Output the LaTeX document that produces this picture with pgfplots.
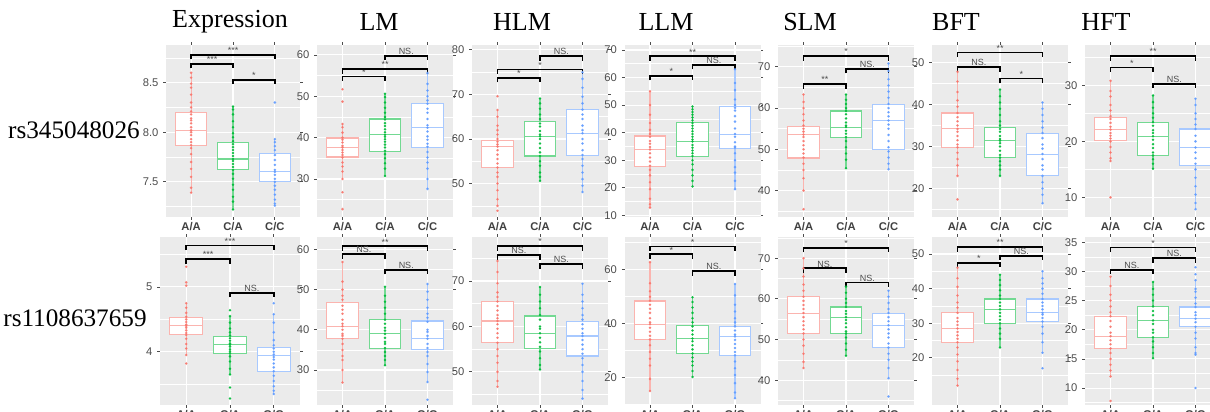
\documentclass[border=0pt]{standalone}
\usepackage{fontspec}
\setmainfont{Liberation Serif}
\newfontfamily\ssf{Liberation Sans}
\usepackage{pgfplots}
\pgfplotsset{compat=1.18}
\usepgfplotslibrary{statistics}
\definecolor{cr}{HTML}{F8766D}
\definecolor{cg}{HTML}{00BA38}
\definecolor{cb}{HTML}{619CFF}
\definecolor{ggbg}{HTML}{EBEBEB}
\definecolor{ggtxt}{HTML}{4D4D4D}
\tikzset{lbl/.style={font=\ssf\fontsize{4.5}{5}\selectfont, text=ggtxt, above, inner sep=0.4pt}}
\pgfplotsset{
 gg/.style={
  scale only axis, anchor=south west,
  xmin=0.4, xmax=3.6, xtick={1,2,3},
  axis background/.style={fill=ggbg},
  axis line style={draw=none},
  xmajorgrids, ymajorgrids, yminorgrids,
  major grid style={white, line width=0.55pt},
  minor grid style={white, line width=0.3pt},
  tick align=outside,
  major tick length=1.3pt, minor tick length=0pt,
  tick style={ggtxt, line width=0.4pt},
  yticklabel style={font=\ssf\fontsize{5.6}{6}\selectfont, text=ggtxt, inner sep=1pt},
  xticklabel style={font=\ssf\bfseries\fontsize{5.6}{6}\selectfont, text=black!75, inner sep=1pt},
  yticklabel shift=1.3pt, xticklabel shift=0.3pt,
  /pgf/number format/assume math mode=true,
  /pgf/number format/1000 sep={},
  boxplot/draw direction=y,
  clip=false,
 },
 top/.style={gg, width=68pt, height=86pt, xticklabels={A/A,C/A,C/C}},
 bot/.style={gg, width=68pt, height=84pt, xticklabels={A/A,G/A,G/G}},
}
% box: position, colour, lower whisker, Q1, median, Q3, upper whisker
\newcommand{\gbox}[7]{\addplot[draw=#2!55!white, fill=white, line width=0.55pt,
  boxplot/draw direction=y,
  boxplot prepared={draw position=#1, lower whisker=#3, lower quartile=#4,
  median=#5, upper quartile=#6, upper whisker=#7, box extend=0.75, whisker extend=0}] coordinates {};}
% points: position, colour, values
\newcommand{\gpts}[3]{\addplot[only marks, mark=*, mark size=0.42pt, color=#2, opacity=0.8]
  table[x expr=#1, y index=0, header=false, row sep=\\] {#3};}
% bracket: x1, x2, bar, legs, label x, label
\newcommand{\gbr}[6]{\addplot[black, line width=0.9pt] coordinates {(#1,#4) (#1,#3) (#2,#3) (#2,#4)};
  \node[lbl] at (axis cs:#5,#3) {#6};}
\begin{document}
\begin{tikzpicture}
\useasboundingbox (0,0) rectangle (605pt,206pt);
% titles
\node[font=\fontsize{13}{14}\selectfont] at (115pt,195pt) {Expression};
\node[font=\fontsize{13}{14}\selectfont] at (189.5pt,195pt) {LM};
\node[font=\fontsize{13}{14}\selectfont] at (261pt,195pt) {HLM};
\node[font=\fontsize{13}{14}\selectfont] at (333pt,195pt) {LLM};
\node[font=\fontsize{13}{14}\selectfont] at (405pt,195pt) {SLM};
\node[font=\fontsize{13}{14}\selectfont] at (478pt,195pt) {BFT};
\node[font=\fontsize{13}{14}\selectfont] at (553pt,195pt) {HFT};
\node[font=\fontsize{12.6}{14}\selectfont] at (37pt,141pt) {rs345048026};
\node[font=\fontsize{12.6}{14}\selectfont] at (37.5pt,47pt) {rs1108637659};
%================ TOP ROW =================
% Expression
\begin{axis}[top, width=67pt, at={(83pt,97.5pt)}, ymin=7.145, ymax=8.88, ytick={7.5,8,8.5},
  minor ytick={7.25,7.75,8.25,8.75},
  yticklabel style={/pgf/number format/.cd, fixed, fixed zerofill, precision=1}]
\gbox{1}{cr}{7.39}{7.865}{8.02}{8.20}{8.60}
\gbox{2}{cg}{7.22}{7.62}{7.73}{7.90}{8.26}
\gbox{3}{cb}{7.26}{7.50}{7.60}{7.79}{7.93}
\gpts{1}{cr}{8.60\\8.55\\8.49\\8.45\\8.38\\8.30\\8.25\\8.21\\8.18\\8.14\\8.12\\8.09\\8.05\\8.02\\8.00\\7.97\\7.93\\7.90\\7.87\\7.84\\7.78\\7.70\\7.63\\7.55\\7.44\\7.39\\}
\gpts{2}{cg}{8.26\\8.23\\8.18\\8.11\\8.05\\7.99\\7.95\\7.91\\7.88\\7.85\\7.82\\7.79\\7.76\\7.73\\7.71\\7.68\\7.65\\7.62\\7.58\\7.53\\7.47\\7.42\\7.35\\7.30\\7.22\\}
\gpts{3}{cb}{8.30\\7.93\\7.90\\7.86\\7.82\\7.77\\7.72\\7.67\\7.62\\7.60\\7.57\\7.53\\7.50\\7.46\\7.42\\7.37\\7.32\\7.28\\7.26\\}
\gbr{1}{3}{8.78}{8.735}{2}{***}
\gbr{1}{2}{8.69}{8.645}{1.5}{***}
\gbr{2}{3}{8.53}{8.485}{2.5}{*}
\end{axis}
% LM
\begin{axis}[top, at={(158.5pt,97.5pt)}, ymin=20.8, ymax=62.4, ytick={30,40,50,60}, minor ytick={25,35,45,55}]
\gbox{1}{cr}{30.0}{35.3}{37.6}{39.9}{43.3}
\gbox{2}{cg}{30.7}{36.7}{40.65}{44.5}{50.6}
\gbox{3}{cb}{27.6}{37.7}{42.35}{48.3}{55.6}
\gpts{1}{cr}{51.7\\48.7\\43.3\\42.5\\41.2\\40.0\\39.5\\38.8\\38.0\\37.6\\37.0\\36.4\\35.8\\35.2\\34.0\\33.0\\31.8\\30.0\\26.8\\22.7\\}
\gpts{2}{cg}{50.6\\49.8\\48.5\\47.2\\46.0\\45.0\\44.4\\43.5\\42.8\\42.0\\41.3\\40.7\\40.2\\39.6\\39.0\\38.3\\37.6\\36.8\\36.0\\35.0\\33.8\\32.5\\30.7\\}
\gpts{3}{cb}{55.6\\53.0\\51.4\\50.0\\49.0\\48.2\\47.0\\46.0\\44.5\\43.0\\42.4\\41.5\\40.3\\39.5\\38.5\\37.8\\36.5\\35.2\\34.0\\32.5\\30.0\\27.6\\}
\gbr{1}{2}{54.8}{53.7}{1.5}{*}
\gbr{1}{3}{56.6}{55.5}{2}{**}
\gbr{2}{3}{59.8}{58.7}{2.5}{NS.}
\end{axis}
% HLM
\begin{axis}[top, at={(236pt,97.5pt)}, ymin=42.5, ymax=81.1, ytick={50,60,70,80}, minor ytick={45,55,65,75}]
\gbox{1}{cr}{45.0}{53.6}{58.3}{59.6}{66.5}
\gbox{2}{cg}{50.6}{56.2}{60.6}{63.9}{69.1}
\gbox{3}{cb}{48.1}{56.4}{61.3}{66.6}{75.0}
\gpts{1}{cr}{69.6\\66.5\\65.0\\63.0\\62.0\\61.0\\60.0\\59.4\\58.8\\58.3\\57.5\\56.5\\55.5\\54.5\\53.6\\52.5\\51.5\\50.0\\48.5\\46.5\\45.0\\43.9\\}
\gpts{2}{cg}{69.1\\68.0\\66.8\\65.5\\64.5\\63.5\\62.8\\61.8\\61.0\\60.6\\60.0\\59.0\\58.0\\57.0\\56.2\\55.0\\54.0\\52.5\\51.5\\50.6\\}
\gpts{3}{cb}{75.0\\73.5\\71.5\\69.5\\68.0\\66.6\\65.5\\64.5\\63.0\\62.0\\61.3\\60.0\\59.0\\57.5\\56.4\\55.5\\54.0\\52.5\\51.0\\49.5\\48.1\\}
\gbr{1}{2}{73.7}{72.7}{1.5}{*}
\gbr{1}{3}{75.6}{74.6}{2}{*}
\gbr{2}{3}{78.6}{77.6}{2.5}{NS.}
\end{axis}
% LLM
\begin{axis}[top, at={(312.25pt,97.5pt)}, ymin=9.4, ymax=71.8, ytick={10,20,30,40,50,60,70}, minor ytick={15,25,35,45,55,65}]
\gbox{1}{cr}{12.8}{27.8}{33.9}{38.8}{55.0}
\gbox{2}{cg}{20.5}{31.4}{36.8}{43.6}{49.5}
\gbox{3}{cb}{19.5}{34.4}{39.3}{49.4}{63.0}
\gpts{1}{cr}{55.0\\50.0\\46.5\\43.5\\41.0\\39.5\\38.5\\37.0\\36.0\\34.8\\33.9\\32.5\\31.0\\29.5\\28.0\\26.5\\24.5\\22.0\\19.5\\16.0\\14.0\\12.8\\}
\gpts{2}{cg}{49.5\\48.5\\47.5\\46.5\\45.5\\44.5\\43.5\\42.5\\41.5\\40.5\\39.5\\38.5\\37.5\\36.8\\35.5\\34.5\\33.5\\32.5\\31.5\\30.0\\28.5\\26.5\\24.5\\22.5\\20.5\\}
\gpts{3}{cb}{63.0\\58.0\\55.5\\52.0\\50.0\\49.0\\48.0\\46.0\\44.0\\41.5\\39.5\\38.5\\36.5\\35.0\\34.5\\32.5\\30.0\\27.5\\25.5\\22.5\\19.5\\}
\gbr{1}{2}{60.6}{59.0}{1.5}{*}
\gbr{1}{3}{67.7}{66.1}{2}{**}
\gbr{2}{3}{64.6}{63.0}{2.5}{NS.}
\end{axis}
% SLM
\begin{axis}[top, at={(389pt,97.5pt)}, ymin=33.6, ymax=75.3, ytick={40,50,60,70}, minor ytick={35,45,55,65,75}]
\gbox{1}{cr}{40.0}{47.9}{53.6}{55.5}{63.3}
\gbox{2}{cg}{45.4}{52.8}{55.4}{59.3}{63.3}
\gbox{3}{cb}{45.2}{50.0}{57.0}{60.9}{70.8}
\gpts{1}{cr}{63.3\\61.5\\60.0\\58.5\\57.0\\55.8\\55.0\\54.3\\53.6\\53.0\\52.0\\51.0\\50.0\\49.0\\48.0\\46.5\\45.0\\43.0\\40.0\\35.5\\}
\gpts{2}{cg}{63.3\\62.0\\61.0\\60.0\\59.3\\58.5\\57.5\\56.5\\55.8\\55.4\\54.5\\53.8\\53.0\\52.0\\50.5\\49.0\\47.5\\45.4\\}
\gpts{3}{cb}{70.8\\69.0\\67.0\\65.5\\64.0\\62.5\\61.0\\60.0\\59.0\\58.0\\57.0\\56.0\\55.0\\53.5\\52.0\\50.5\\49.5\\48.0\\46.5\\45.2\\}
\gbr{1}{2}{65.8}{64.7}{1.5}{**}
\gbr{1}{3}{72.6}{71.5}{2}{*}
\gbr{2}{3}{69.5}{68.4}{2.5}{NS.}
\end{axis}
% BFT
\begin{axis}[top, at={(466pt,97.5pt)}, ymin=13.2, ymax=54.2, ytick={20,30,40,50}, minor ytick={15,25,35,45}]
\gbox{1}{cr}{23.0}{29.8}{34.2}{38.0}{47.8}
\gbox{2}{cg}{23.0}{27.4}{31.4}{34.6}{43.6}
\gbox{3}{cb}{16.5}{23.0}{28.2}{33.2}{40.5}
\gpts{1}{cr}{47.8\\45.5\\43.0\\41.0\\39.5\\38.0\\37.0\\36.0\\35.0\\34.2\\33.5\\32.5\\31.5\\30.5\\29.8\\28.5\\27.0\\25.5\\23.0\\17.4\\}
\gpts{2}{cg}{43.6\\42.0\\40.5\\39.0\\37.5\\36.0\\35.0\\34.2\\33.5\\32.5\\31.8\\31.4\\30.8\\30.0\\29.0\\28.0\\27.4\\26.5\\25.5\\24.5\\23.0\\}
\gpts{3}{cb}{40.5\\39.0\\37.5\\36.0\\34.5\\33.2\\32.0\\30.5\\29.5\\28.2\\27.0\\25.5\\24.5\\23.0\\21.5\\20.0\\18.5\\16.5\\}
\gbr{1}{3}{52.4}{51.3}{2}{**}
\gbr{1}{2}{48.9}{47.8}{1.5}{NS.}
\gbr{2}{3}{46.2}{45.1}{2.5}{*}
\end{axis}
% HFT
\begin{axis}[top, at={(542.5pt,97.5pt)}, ymin=6.5, ymax=37.2, ytick={10,20,30}, minor ytick={15,25,35}]
\gbox{1}{cr}{16.5}{20.2}{22.1}{24.3}{30.8}
\gbox{2}{cg}{15.1}{17.5}{20.9}{23.4}{28.2}
\gbox{3}{cb}{7.9}{15.7}{18.9}{22.2}{27.6}
\gpts{1}{cr}{30.8\\29.0\\28.0\\26.5\\25.5\\24.5\\24.0\\23.3\\22.6\\22.1\\21.5\\21.0\\20.5\\20.0\\19.0\\18.0\\17.0\\16.5\\10.0\\}
\gpts{2}{cg}{28.2\\27.0\\26.0\\25.0\\24.2\\23.4\\22.8\\22.0\\21.5\\20.9\\20.3\\19.5\\18.8\\18.0\\17.5\\16.8\\16.0\\15.1\\}
\gpts{3}{cb}{27.6\\26.5\\25.0\\24.0\\23.0\\22.2\\21.0\\20.0\\18.9\\18.0\\17.0\\16.0\\15.0\\13.5\\12.0\\10.5\\9.0\\7.9\\}
\gbr{1}{3}{35.2}{34.4}{2}{**}
\gbr{1}{2}{33.2}{32.4}{1.5}{*}
\gbr{2}{3}{30.3}{29.5}{2.5}{NS.}
\end{axis}
%================ BOTTOM ROW =================
% Expression
\begin{axis}[bot, width=70pt, at={(80pt,3.5pt)}, ymin=3.18, ymax=5.77, ytick={4,5}, minor ytick={3.5,4.5,5.5}]
\gbox{1}{cr}{3.95}{4.26}{4.40}{4.53}{4.75}
\gbox{2}{cg}{3.65}{3.98}{4.11}{4.24}{4.55}
\gbox{3}{cb}{3.35}{3.70}{3.95}{4.06}{4.58}
\gpts{1}{cr}{5.31\\5.07\\5.02\\4.75\\4.68\\4.60\\4.54\\4.50\\4.46\\4.42\\4.40\\4.37\\4.33\\4.29\\4.26\\4.20\\4.12\\4.05\\3.95\\3.82\\}
\gpts{2}{cg}{4.64\\4.55\\4.45\\4.36\\4.30\\4.25\\4.21\\4.17\\4.13\\4.11\\4.08\\4.04\\4.01\\3.98\\3.93\\3.85\\3.74\\3.65\\3.45\\3.28\\}
\gpts{3}{cb}{4.75\\4.58\\4.45\\4.30\\4.18\\4.10\\4.05\\4.00\\3.96\\3.92\\3.88\\3.82\\3.76\\3.70\\3.63\\3.55\\3.47\\3.40\\3.35\\}
\gbr{1}{3}{5.64}{5.57}{2}{***}
\gbr{1}{2}{5.43}{5.36}{1.5}{***}
\gbr{2}{3}{4.91}{4.84}{2.5}{NS.}
\end{axis}
% LM
\begin{axis}[bot, at={(158.5pt,3.5pt)}, ymin=21.3, ymax=63.1, ytick={30,40,50,60}, minor ytick={25,35,45,55}]
\gbox{1}{cr}{26.9}{37.8}{40.9}{46.9}{56.9}
\gbox{2}{cg}{31.2}{35.3}{39.0}{42.5}{50.7}
\gbox{3}{cb}{27.0}{35.2}{37.8}{42.2}{51.4}
\gpts{1}{cr}{56.9\\52.0\\50.0\\48.5\\47.5\\46.0\\45.0\\44.0\\42.5\\41.5\\40.9\\40.0\\39.0\\38.5\\37.8\\36.5\\35.0\\33.5\\32.5\\30.0\\26.9\\}
\gpts{2}{cg}{50.7\\48.5\\47.0\\45.5\\44.0\\42.5\\41.5\\40.5\\39.8\\39.0\\38.0\\37.0\\36.5\\35.5\\34.5\\33.5\\32.5\\31.2\\}
\gpts{3}{cb}{51.4\\49.5\\47.5\\45.5\\44.0\\43.0\\42.0\\40.0\\39.5\\38.5\\37.8\\36.5\\35.5\\34.5\\33.5\\31.5\\29.5\\27.0\\22.6\\}
\gbr{1}{3}{60.8}{59.7}{2}{**}
\gbr{1}{2}{58.8}{57.7}{1.5}{NS.}
\gbr{2}{3}{54.9}{53.8}{2.5}{NS.}
\end{axis}
% HLM
\begin{axis}[bot, at={(236pt,3.5pt)}, ymin=42.7, ymax=79.7, ytick={50,60,70}, minor ytick={45,55,65,75}]
\gbox{1}{cr}{46.7}{56.4}{61.2}{65.4}{74.4}
\gbox{2}{cg}{50.5}{55.1}{58.5}{62.3}{68.7}
\gbox{3}{cb}{44.1}{53.5}{57.9}{61.1}{69.4}
\gpts{1}{cr}{74.4\\72.0\\69.5\\67.5\\66.5\\65.5\\64.5\\63.5\\62.5\\61.8\\61.2\\60.5\\59.5\\58.5\\57.5\\56.4\\55.0\\53.5\\52.0\\50.0\\48.0\\46.7\\}
\gpts{2}{cg}{68.7\\67.0\\65.5\\64.0\\62.5\\61.5\\60.0\\59.5\\58.5\\57.5\\56.5\\55.5\\54.5\\53.0\\51.5\\50.5\\}
\gpts{3}{cb}{69.4\\67.0\\65.5\\64.0\\62.5\\61.5\\60.5\\59.5\\58.5\\57.9\\57.0\\56.0\\55.0\\54.0\\53.0\\51.5\\50.0\\48.0\\46.0\\44.1\\}
\gbr{1}{3}{77.7}{76.7}{2}{*}
\gbr{1}{2}{75.7}{74.7}{1.5}{NS.}
\gbr{2}{3}{73.7}{72.7}{2.5}{NS.}
\end{axis}
% LLM
\begin{axis}[bot, at={(312.25pt,3.5pt)}, ymin=9.9, ymax=72.1, ytick={20,40,60}, minor ytick={10,30,50,70}]
\gbox{1}{cr}{15.1}{34.2}{39.8}{48.4}{62.8}
\gbox{2}{cg}{20.3}{28.9}{34.5}{39.4}{49.8}
\gbox{3}{cb}{12.4}{28.3}{35.3}{39.0}{54.7}
\gpts{1}{cr}{62.8\\55.0\\52.0\\50.0\\48.5\\47.0\\45.5\\44.0\\42.0\\40.5\\39.8\\38.5\\37.0\\35.5\\34.2\\32.0\\29.5\\27.0\\24.5\\19.5\\15.1\\}
\gpts{2}{cg}{49.8\\48.0\\46.0\\44.0\\42.0\\40.5\\39.0\\37.5\\36.0\\34.5\\33.5\\32.0\\30.5\\29.0\\27.5\\26.0\\24.5\\22.5\\20.3\\}
\gpts{3}{cb}{54.7\\50.5\\47.0\\44.5\\42.0\\40.5\\39.0\\37.5\\36.0\\35.3\\34.0\\32.5\\31.0\\29.5\\28.3\\26.0\\23.5\\21.0\\18.0\\14.5\\12.4\\}
\gbr{1}{3}{68.6}{66.9}{2}{*}
\gbr{1}{2}{65.7}{64.0}{1.5}{*}
\gbr{2}{3}{59.5}{57.8}{2.5}{NS.}
\end{axis}
% SLM
\begin{axis}[bot, at={(389pt,3.5pt)}, ymin=33.9, ymax=75.2, ytick={40,50,60,70}, minor ytick={35,45,55,65,75}]
\gbox{1}{cr}{43.0}{51.5}{56.5}{60.5}{70.0}
\gbox{2}{cg}{46.0}{51.5}{55.5}{58.0}{63.0}
\gbox{3}{cb}{40.5}{48.0}{53.5}{56.5}{62.0}
\gpts{1}{cr}{70.0\\67.5\\65.5\\63.5\\62.0\\60.5\\59.5\\58.5\\57.5\\56.5\\55.5\\54.5\\53.5\\52.5\\51.5\\50.0\\48.5\\46.5\\44.5\\43.0\\}
\gpts{2}{cg}{63.0\\61.5\\60.0\\59.0\\58.0\\57.0\\56.3\\55.5\\54.8\\54.0\\53.0\\52.0\\51.5\\50.5\\49.0\\47.5\\46.0\\}
\gpts{3}{cb}{62.0\\60.5\\59.0\\57.5\\56.5\\55.5\\54.5\\53.5\\52.5\\51.5\\50.5\\49.0\\48.0\\46.5\\45.0\\43.0\\40.5\\36.0\\}
\gbr{1}{3}{72.5}{71.4}{2}{*}
\gbr{1}{2}{67.5}{66.4}{1.5}{NS.}
\gbr{2}{3}{64.0}{62.9}{2.5}{NS.}
\end{axis}
% BFT
\begin{axis}[bot, at={(466pt,3.5pt)}, ymin=6.4, ymax=54.9, ytick={20,30,40,50}, minor ytick={15,25,35,45}]
\gbox{1}{cr}{12.0}{24.5}{28.5}{33.0}{46.0}
\gbox{2}{cg}{23.0}{30.0}{34.0}{37.0}{44.0}
\gbox{3}{cb}{21.5}{30.5}{33.0}{37.0}{45.0}
\gpts{1}{cr}{46.0\\43.0\\40.5\\38.0\\36.0\\34.5\\33.0\\31.5\\30.5\\29.5\\28.5\\27.5\\26.5\\25.5\\24.5\\23.0\\21.0\\19.0\\16.5\\14.0\\12.0\\}
\gpts{2}{cg}{44.0\\42.5\\41.0\\39.5\\38.0\\37.0\\36.0\\35.0\\34.0\\33.0\\32.0\\31.0\\30.0\\28.5\\27.0\\25.5\\23.0\\}
\gpts{3}{cb}{45.0\\43.0\\41.5\\40.0\\38.5\\37.0\\36.0\\35.0\\34.0\\33.0\\32.5\\31.5\\30.5\\29.0\\27.0\\24.5\\21.5\\17.0\\}
\gbr{1}{3}{52.0}{50.7}{2}{**}
\gbr{1}{2}{47.5}{46.2}{1.5}{*}
\gbr{2}{3}{49.5}{48.2}{2.5}{NS.}
\end{axis}
% HFT
\begin{axis}[bot, at={(542.5pt,3.5pt)}, ymin=7.1, ymax=35.9, ytick={10,15,20,25,30,35}, minor ytick={7.5,12.5,17.5,22.5,27.5,32.5}]
\gbox{1}{cr}{12.0}{16.8}{18.9}{22.3}{29.1}
\gbox{2}{cg}{15.1}{18.7}{21.6}{24.0}{28.2}
\gbox{3}{cb}{15.7}{20.5}{21.9}{23.9}{28.5}
\gpts{1}{cr}{29.1\\27.5\\26.0\\25.0\\24.0\\23.0\\22.3\\21.5\\20.5\\19.5\\18.9\\18.2\\17.5\\16.8\\16.0\\15.0\\14.0\\13.0\\12.0\\7.8\\}
\gpts{2}{cg}{28.2\\27.0\\26.0\\25.0\\24.0\\23.2\\22.5\\21.6\\21.0\\20.0\\19.5\\18.7\\18.0\\17.0\\16.0\\15.1\\}
\gpts{3}{cb}{30.7\\29.5\\28.5\\27.0\\26.5\\25.5\\24.5\\23.9\\23.0\\22.5\\21.9\\21.3\\20.5\\19.5\\18.5\\17.0\\16.0\\15.7\\10.0\\}
\gbr{1}{3}{34.1}{33.3}{2}{*}
\gbr{1}{2}{30.3}{29.5}{1.5}{NS.}
\gbr{2}{3}{32.3}{31.5}{2.5}{NS.}
\end{axis}
\end{tikzpicture}
\end{document}
